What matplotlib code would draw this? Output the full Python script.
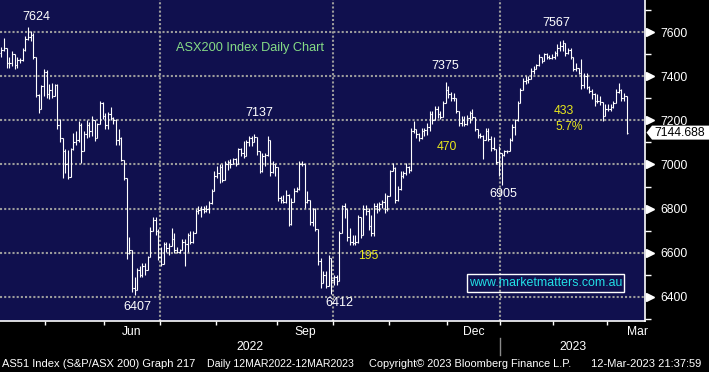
import matplotlib.pyplot as plt
import matplotlib.transforms as mtransforms
import numpy as np
import pandas as pd
from matplotlib.collections import LineCollection
from matplotlib.patches import Polygon, Rectangle

plt.rcParams['font.family'] = ['Liberation Sans', 'DejaVu Sans']

# ASX trading calendar (includes a few future days so March can be labelled)
holidays = ["2022-04-15", "2022-04-18", "2022-04-25", "2022-06-13", "2022-09-22",
            "2022-12-26", "2022-12-27", "2023-01-02", "2023-01-26",
            "2023-04-07", "2023-04-10", "2023-04-25"]
days = pd.bdate_range("2022-04-04", "2023-04-28", freq="C", holidays=holidays)

# daily OHLC, S&P/ASX 200, 4 Apr 2022 - 10 Mar 2023
opens = [7505, 7520, 7530, 7460, 7460, 7500, 7450, 7475, 7475, 7520,
         7570, 7580, 7590, 7490, 7315, 7250, 7355, 7420, 7320, 7340,
         7310, 7360, 7180, 7120, 7060, 7000, 6945, 7070, 7100, 7110,
         7180, 7060, 7140, 7180, 7150, 7200, 7120, 7185, 7280, 7220,
         7180, 7230, 7210, 7200, 7110, 7120, 7020, 6940, 6600, 6610,
         6440, 6430, 6520, 6500, 6540, 6520, 6580, 6700, 6750, 6700,
         6580, 6550, 6640, 6620, 6630, 6660, 6610, 6605, 6610, 6650,
         6640, 6680, 6650, 6690, 6790, 6795, 6800, 6790, 6800, 6825,
         6880, 6950, 6960, 6990, 6930, 7000, 7010, 7000, 7025, 7000,
         7070, 7050, 7040, 7100, 7120, 7100, 7125, 7060, 6970, 7040,
         7045, 7110, 6965, 7000, 6990, 6850, 6840, 6830, 6860, 6730,
         6830, 6880, 6890, 7000, 7000, 6830, 6840, 6740, 6800, 6705,
         6560, 6460, 6500, 6450, 6575, 6475, 6490, 6470, 6690, 6810,
         6800, 6670, 6650, 6645, 6650, 6760, 6680, 6800, 6790, 6720,
         6690, 6810, 6800, 6820, 6830, 6800, 6855, 6970, 6985, 6840,
         6890, 6950, 6960, 6990, 6975, 7150, 7160, 7140, 7120, 7150,
         7155, 7170, 7230, 7200, 7250, 7230, 7215, 7280, 7340, 7320,
         7300, 7300, 7245, 7190, 7200, 7185, 7210, 7235, 7215, 7160,
         7135, 7130, 7110, 7150, 7115, 7075, 7070, 7010, 7050, 7045,
         7060, 7060, 7110, 7170, 7200, 7280, 7340, 7380, 7385, 7390,
         7425, 7435, 7450, 7490, 7470, 7500, 7490, 7485, 7490, 7505,
         7530, 7540, 7550, 7505, 7520, 7490, 7435, 7440, 7415, 7360,
         7400, 7350, 7335, 7320, 7290, 7290, 7285, 7220, 7250, 7250,
         7260, 7280, 7330, 7340, 7300, 7310]
highs = [7535, 7575, 7530, 7490, 7515, 7500, 7490, 7485, 7530, 7585,
         7624, 7606, 7595, 7490, 7320, 7360, 7435, 7430, 7365, 7370,
         7365, 7365, 7205, 7120, 7070, 7068, 7076, 7145, 7150, 7197,
         7190, 7150, 7200, 7195, 7220, 7200, 7190, 7290, 7285, 7235,
         7240, 7260, 7215, 7205, 7160, 7125, 7020, 6940, 6670, 6610,
         6490, 6530, 6540, 6555, 6555, 6585, 6715, 6760, 6760, 6705,
         6625, 6650, 6650, 6645, 6712, 6690, 6625, 6615, 6660, 6660,
         6690, 6697, 6700, 6800, 6810, 6812, 6812, 6815, 6833, 6890,
         6970, 6992, 7000, 7000, 7015, 7020, 7023, 7030, 7030, 7076,
         7076, 7106, 7110, 7129, 7129, 7137, 7125, 7060, 7053, 7050,
         7129, 7110, 7015, 7000, 6990, 6856, 6860, 6886, 6865, 6848,
         6894, 6900, 7015, 7015, 7000, 6879, 6841, 6803, 6803, 6705,
         6576, 6515, 6515, 6591, 6575, 6500, 6500, 6697, 6818, 6826,
         6800, 6712, 6682, 6682, 6773, 6760, 6818, 6818, 6803, 6773,
         6826, 6826, 6830, 6841, 6871, 6863, 6977, 7007, 6990, 6901,
         6970, 6970, 7007, 6995, 7166, 7197, 7160, 7144, 7166, 7167,
         7189, 7242, 7242, 7265, 7265, 7242, 7288, 7375, 7356, 7330,
         7326, 7300, 7245, 7220, 7220, 7225, 7242, 7250, 7215, 7160,
         7145, 7136, 7167, 7167, 7129, 7125, 7070, 7083, 7053, 7068,
         7068, 7121, 7182, 7205, 7288, 7348, 7394, 7401, 7401, 7439,
         7445, 7455, 7500, 7490, 7507, 7507, 7495, 7500, 7515, 7545,
         7560, 7567, 7553, 7530, 7530, 7490, 7460, 7440, 7477, 7417,
         7417, 7356, 7341, 7326, 7318, 7310, 7285, 7273, 7273, 7275,
         7288, 7341, 7368, 7341, 7326, 7310]
lows = [7490, 7515, 7440, 7440, 7445, 7435, 7440, 7460, 7470, 7515,
        7565, 7560, 7480, 7305, 7235, 7250, 7310, 7300, 7295, 7300,
        7310, 7160, 7100, 6940, 6960, 6932, 6945, 7065, 7090, 7100,
        7005, 7060, 7120, 7125, 7130, 7105, 7120, 7185, 7205, 7160,
        7160, 7200, 7185, 7090, 7090, 7015, 6930, 6570, 6595, 6420,
        6407, 6430, 6490, 6490, 6500, 6520, 6580, 6700, 6680, 6565,
        6538, 6550, 6605, 6590, 6630, 6598, 6600, 6600, 6610, 6538,
        6605, 6640, 6645, 6690, 6775, 6760, 6780, 6785, 6780, 6820,
        6880, 6940, 6917, 6920, 6930, 6975, 6985, 7000, 6992, 7000,
        7040, 7030, 7040, 7083, 7085, 7100, 7045, 6962, 6965, 6992,
        7040, 6950, 6960, 6947, 6835, 6826, 6826, 6826, 6720, 6727,
        6830, 6875, 6886, 6992, 6803, 6826, 6727, 6720, 6697, 6545,
        6439, 6460, 6439, 6450, 6412, 6454, 6454, 6470, 6690, 6757,
        6651, 6636, 6636, 6636, 6644, 6667, 6680, 6773, 6704, 6674,
        6674, 6780, 6790, 6803, 6780, 6790, 6855, 6970, 6826, 6833,
        6886, 6939, 6954, 6962, 6970, 7144, 7121, 7106, 7114, 7130,
        7136, 7151, 7182, 7200, 7212, 7205, 7215, 7280, 7303, 7288,
        7288, 7235, 7174, 7174, 7174, 7180, 7189, 7205, 7151, 7121,
        7121, 7023, 7110, 7106, 7061, 7065, 7000, 6947, 6905, 7038,
        7053, 7060, 7106, 7136, 7197, 7280, 7340, 7364, 7371, 7386,
        7409, 7432, 7447, 7462, 7470, 7480, 7477, 7480, 7477, 7492,
        7515, 7515, 7492, 7500, 7477, 7424, 7424, 7409, 7341, 7348,
        7341, 7326, 7295, 7265, 7280, 7270, 7197, 7220, 7242, 7242,
        7257, 7280, 7326, 7288, 7288, 7140]
closes = [7520, 7530, 7460, 7460, 7500, 7450, 7475, 7475, 7520, 7570,
          7580, 7590, 7490, 7315, 7250, 7355, 7420, 7320, 7340, 7310,
          7360, 7180, 7120, 7060, 7000, 6945, 7070, 7100, 7110, 7180,
          7060, 7140, 7180, 7150, 7200, 7120, 7185, 7280, 7220, 7180,
          7230, 7210, 7200, 7110, 7120, 7020, 6940, 6600, 6610, 6440,
          6430, 6520, 6500, 6540, 6520, 6580, 6700, 6750, 6700, 6580,
          6550, 6640, 6620, 6630, 6660, 6610, 6605, 6610, 6650, 6640,
          6680, 6650, 6690, 6790, 6795, 6800, 6790, 6800, 6825, 6880,
          6950, 6960, 6990, 6930, 7000, 7010, 7000, 7025, 7000, 7070,
          7050, 7040, 7100, 7120, 7100, 7125, 7060, 6970, 7040, 7045,
          7110, 6965, 7000, 6990, 6850, 6840, 6830, 6860, 6730, 6830,
          6880, 6890, 7000, 7000, 6830, 6840, 6740, 6800, 6705, 6560,
          6460, 6500, 6450, 6575, 6475, 6490, 6470, 6690, 6810, 6800,
          6670, 6650, 6645, 6650, 6760, 6680, 6800, 6790, 6720, 6690,
          6810, 6800, 6820, 6830, 6800, 6855, 6970, 6985, 6840, 6890,
          6950, 6960, 6990, 6975, 7150, 7160, 7140, 7120, 7150, 7155,
          7170, 7230, 7200, 7250, 7230, 7215, 7280, 7340, 7320, 7300,
          7300, 7245, 7190, 7200, 7185, 7210, 7235, 7215, 7160, 7135,
          7130, 7110, 7150, 7115, 7075, 7070, 7010, 7050, 7045, 7060,
          7060, 7110, 7170, 7200, 7280, 7340, 7380, 7385, 7390, 7425,
          7435, 7450, 7490, 7470, 7500, 7490, 7485, 7490, 7505, 7530,
          7540, 7550, 7505, 7520, 7490, 7435, 7440, 7415, 7360, 7400,
          7350, 7335, 7320, 7290, 7290, 7285, 7220, 7250, 7250, 7260,
          7280, 7330, 7340, 7300, 7310, 7144.688]

y_major = [6400, 6600, 6800, 7000, 7200, 7400, 7600]
y_minor = [6300, 6500, 6700, 6900, 7100, 7300, 7500, 7700]
month_names = {6: "Jun", 9: "Sep", 12: "Dec", 3: "Mar"}

# peak / trough call-outs and move sizes (text, bar position, level)
white_notes = [("7624", 13.0, 7669), ("6407", 50.9, 6351), ("7137", 96.8, 7234),
               ("6412", 126.9, 6371), ("7375", 166.7, 7447), ("6905", 188.8, 6867),
               ("7567", 208.7, 7642)]
yellow_notes = [("470", 167.5, 7080), ("195", 137.7, 6586),
                ("433", 211.5, 7243), ("5.7%", 213.3, 7171)]

n = len(closes)
W, H = 709, 372
navy = "#10104e"
grid_c = "#9c9c9c"

fig = plt.figure(figsize=(W / 100, H / 100), dpi=100, facecolor="black")
ax = fig.add_axes([0, 1 - 320.7 / H, 645 / W, 320.7 / H])
ax.set_facecolor(navy)

segs = []
for i in range(n):
    segs.append([(i, lows[i]), (i, highs[i])])
    segs.append([(i - 0.5, opens[i]), (i, opens[i])])
    segs.append([(i, closes[i]), (i + 0.5, closes[i])])
ax.add_collection(LineCollection(segs, colors="white", linewidths=0.8))

ax.set_xlim(-0.56, 241.9)
ax.set_ylim(6291, 7746.6)

# month boundaries in trading-day units
cal = pd.Series(np.arange(len(days)), index=days)
firsts = cal.groupby([days.year, days.month]).first()
bounds = {k: v - 0.5 for k, v in firsts.items()}
keys = list(bounds.keys())
tick_pos = [bounds[k] for k in keys if 0 < bounds[k] < 241.9]

# grid
for v in y_major:
    ax.axhline(v, color=grid_c, lw=1.5, ls=(0, (1, 1)), zorder=0)
for k in keys:
    if k[1] in (1, 7, 10) and 0 < bounds[k] < 241.9:
        ax.axvline(bounds[k], color=grid_c, lw=1.5, ls=(0, (1, 1)), zorder=0)

for s in ["left", "top"]:
    ax.spines[s].set_visible(False)
for s in ["right", "bottom"]:
    ax.spines[s].set_color("white")
    ax.spines[s].set_linewidth(1.2)

ax.set_xticks(tick_pos)
ax.set_xticklabels([])
ax.tick_params(axis="x", direction="out", length=3, width=1, color="white")

ax.yaxis.tick_right()
ax.set_yticks(y_major)
ax.set_yticks(y_minor, minor=True)
ax.tick_params(axis="y", which="major", length=0, pad=11, labelcolor="white", labelsize=8.7)
ax.tick_params(axis="y", which="minor", length=4, width=1, color="white", direction="out")

tri = ax.get_yaxis_transform() + mtransforms.ScaledTranslation(4.5 / 100, 0, fig.dpi_scale_trans)
ax.plot([1.0] * len(y_major), y_major, ls="none", marker=">", ms=5.5, color="white",
        transform=tri, clip_on=False)

# month labels centred in their month
xt = ax.get_xaxis_transform()
for idx, k in enumerate(keys[:-1]):
    if k[1] in month_names:
        centre = (bounds[k] + bounds[keys[idx + 1]]) / 2
        ax.text(centre, -0.017, month_names[k[1]], transform=xt, ha="center", va="top",
                color="white", fontsize=8.7)

jan = bounds[(2023, 1)]
ax.text((-0.56 + jan) / 2, -0.082, "2022", transform=xt, ha="center", va="center",
        color="white", fontsize=8.7)
ax.text((jan + 241.9) / 2, -0.082, "2023", transform=xt, ha="center", va="center",
        color="white", fontsize=8.7)
ax.plot([jan, jan], [-0.054, -0.107], transform=xt, color="#8a8a8a", lw=1, clip_on=False)

for t, xi, yv in white_notes:
    ax.text(xi, yv, t, color="white", fontsize=9, ha="center", va="center")
for t, xi, yv in yellow_notes:
    ax.text(xi, yv, t, color="#e8e81c", fontsize=8.7, ha="center", va="center")

fig.text(176 / W, 1 - 48.3 / H, "ASX200 Index Daily Chart", color="#86dc86",
         fontsize=9.2, ha="left", va="center")

# watermark box
fig.add_artist(Rectangle((467.3 / W, 1 - 292.3 / H), 157 / W, 18 / H,
                         transform=fig.transFigure, fill=False, ec="white", lw=1))
fig.text(545.8 / W, 1 - 283.3 / H, "www.marketmatters.com.au", color="#22e0e6",
         fontsize=8.9, ha="center", va="center")

# last price flag
bt = mtransforms.blended_transform_factory(fig.transFigure, ax.transData)
last = closes[-1]
h = 7 / 0.22033
flag = Polygon([(646.5 / W, last), (652 / W, last + h), (1.0, last + h),
                (1.0, last - h), (652 / W, last - h)], closed=True,
               transform=bt, fc="white", ec="none", clip_on=False)
fig.add_artist(flag)
fig.text(654 / W, 0, f"{last:.3f}", transform=bt, color="black", fontsize=8.7,
         ha="left", va="center").set_position((654 / W, last))

foot_y = 1 - 364 / H
fig.text(2 / W, foot_y, "AS51 Index (S&P/ASX 200) Graph 217", color="white", fontsize=8.0, va="center")
fig.text(206.7 / W, foot_y, "Daily 12MAR2022-12MAR2023", color="white", fontsize=7.6, va="center")
fig.text(369 / W, foot_y, "Copyright\u00a9 2023 Bloomberg Finance L.P.", color="white", fontsize=7.9, va="center")
fig.text(590.7 / W, foot_y, "12-Mar-2023 21:37:59", color="white", fontsize=8.0, va="center")

fig.savefig("out.png", dpi=100, facecolor="black")
